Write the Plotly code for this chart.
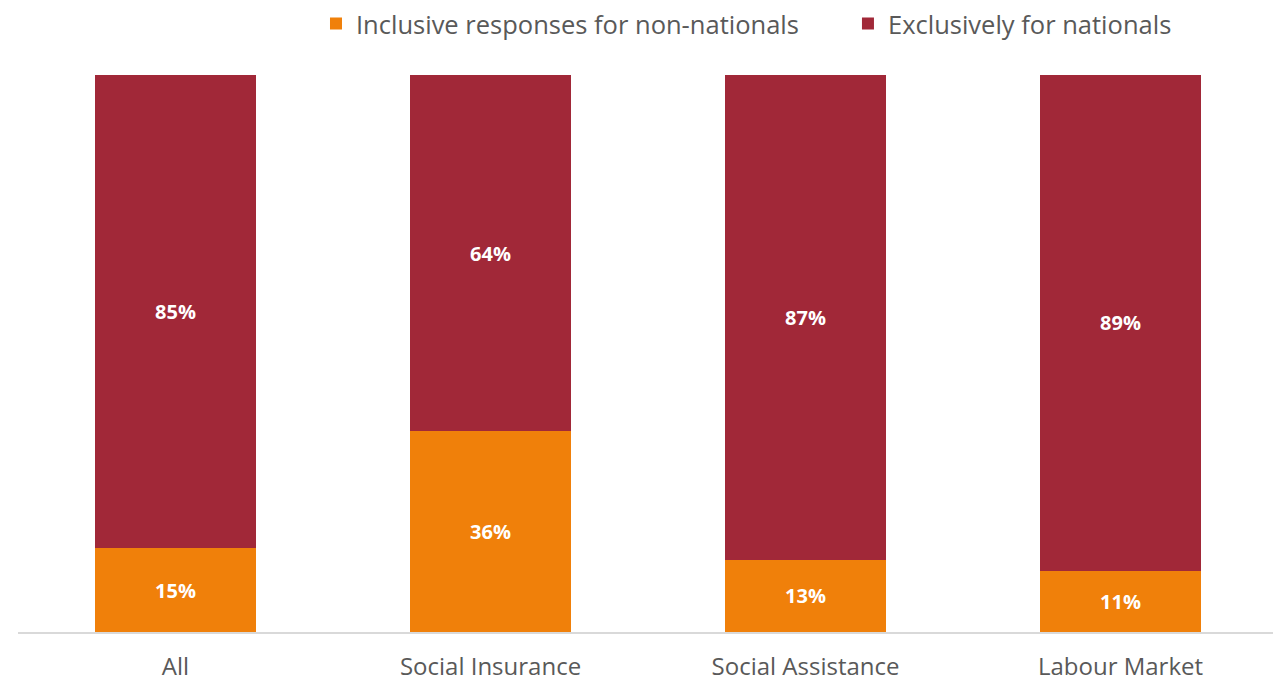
import plotly.graph_objects as go

categories = ["All", "Social Insurance", "Social Assistance", "Labour Market"]
inclusive = [15, 36, 13, 11]
exclusive = [85, 64, 87, 89]

fig = go.Figure()
fig.add_trace(go.Bar(
    x=categories, y=inclusive, name="Inclusive responses for non-nationals",
    marker=dict(color="#F0800A", line=dict(width=0)), legend="legend",
    text=[f"{v}%" for v in inclusive], textposition="inside", insidetextanchor="middle",
    textfont=dict(color="white", size=20, family="Open Sans"), texttemplate="<b>%{text}</b>",
))
fig.add_trace(go.Bar(
    x=categories, y=exclusive, name="Exclusively for nationals",
    marker=dict(color="#A12838", line=dict(width=0)), legend="legend2",
    text=[f"{v}%" for v in exclusive], textposition="inside", insidetextanchor="middle",
    textfont=dict(color="white", size=20, family="Open Sans"), texttemplate="<b>%{text}</b>",
))
legend_style = dict(orientation="h", xanchor="left", y=1.0916, yanchor="middle",
                    font=dict(size=25.5, color="#595959"), itemwidth=30)
fig.update_layout(
    barmode="stack", bargap=0.49,
    width=1273, height=673,
    margin=dict(l=10, r=3, t=67, b=49, autoexpand=False),
    plot_bgcolor="white", paper_bgcolor="white",
    font=dict(family="Open Sans", color="#595959"),
    legend=dict(x=0.2365, **legend_style),
    legend2=dict(x=0.6587, **legend_style),
    xaxis=dict(showline=True, linecolor="#D9D9D9", linewidth=2, ticks="",
               automargin=False, ticklabelstandoff=12,
               tickfont=dict(size=24, color="#595959")),
    yaxis=dict(visible=False, range=[0, 100], automargin=False),
    showlegend=True,
)
fig.write_html("out.html")
